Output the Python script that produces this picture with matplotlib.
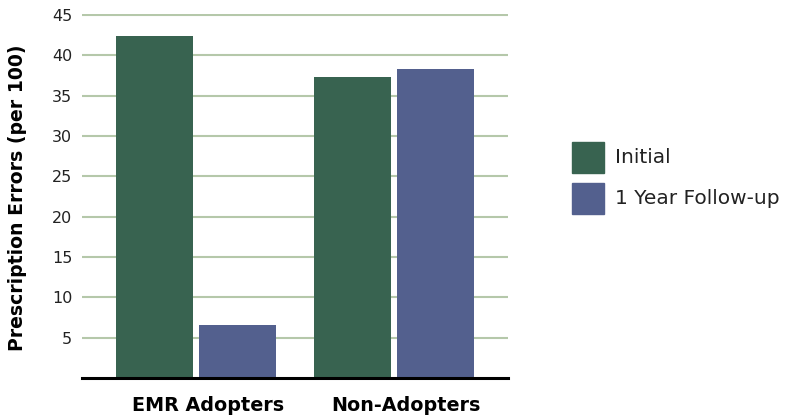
import matplotlib.pyplot as plt
import matplotlib.patches as patches
import matplotlib.transforms as mtransforms
import numpy as np

# --- Adatok ---
groups = ["EMR Adopters", "Non-Adopters"]
series_names = ["Initial", "1 Year Follow-up"]
initial_vals = [42.4, 37.3]
followup_vals = [6.6, 38.3]
yticks = [5, 10, 15, 20, 25, 30, 35, 40, 45]

colors = ["#386350", "#53608E"]
grid_color = "#b5c8aa"
text_color = "#222222"

plt.rcParams['font.family'] = ['DejaVu Sans']

W, H = 788, 415
fig = plt.figure(figsize=(W / 100, H / 100), dpi=100)
ax = fig.add_axes([82 / W, 1 - 378 / H, (508 - 82) / W, (378 - 14) / H])

x = np.arange(len(groups))
width = 0.389
offset = 0.2096
ax.bar(x - offset, initial_vals, width, color=colors[0], zorder=3)
ax.bar(x + offset, followup_vals, width, color=colors[1], zorder=3)

ax.set_xlim(-0.576, 1.576)
ax.set_ylim(0, 45.12)
ax.set_yticks(yticks)
ax.yaxis.grid(True, color=grid_color, linewidth=1.5, zorder=0)
ax.set_axisbelow(True)

for side in ['top', 'right', 'left']:
    ax.spines[side].set_visible(False)
ax.spines['bottom'].set_linewidth(2.2)
ax.spines['bottom'].set_color('black')
ax.spines['bottom'].set_zorder(4)

ax.tick_params(axis='y', length=0, pad=7, labelsize=11.5, labelcolor=text_color)
ax.tick_params(axis='x', length=0, pad=13, labelsize=13.8, labelcolor='black')
ax.set_xticks(x)
ax.set_xticklabels(groups, fontweight='bold')
# a címkék kicsit jobbra tolva, mint az eredetin
shift = mtransforms.ScaledTranslation(12 / 100, 0, fig.dpi_scale_trans)
for lbl in ax.get_xticklabels():
    lbl.set_transform(lbl.get_transform() + shift)

# y tengely felirat
fig.text(18 / W, 1 - 198 / H, "Prescription Errors (per 100)", rotation=90,
         ha='center', va='center', fontsize=13.6, fontweight='bold', color='black')

# --- Jelmagyarázat (kézzel) ---
sq_w, sq_h = 32, 31
leg_x = 572
leg_rows = [142, 183]
for name, c, top in zip(series_names, colors, leg_rows):
    fig.patches.append(patches.Rectangle((leg_x / W, 1 - (top + sq_h) / H),
                                         sq_w / W, sq_h / H, color=c,
                                         transform=fig.transFigure, figure=fig))
    fig.text(615 / W, 1 - (top + sq_h / 2) / H, name, ha='left', va='center',
             fontsize=14.5, color=text_color)

fig.savefig("out.png", dpi=100)
